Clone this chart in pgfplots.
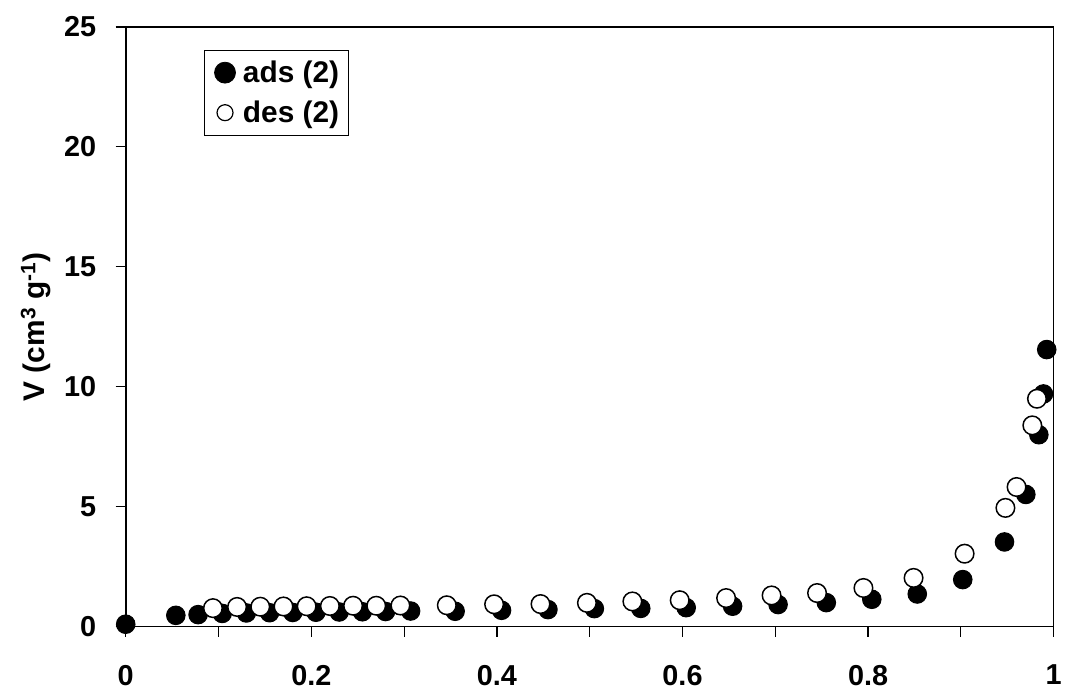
\documentclass[border=0pt]{standalone}
\usepackage{pgfplots}
\pgfplotsset{compat=1.18}
\usepackage{fontspec}
\setmainfont{Liberation Sans}
\begin{document}
\begin{tikzpicture}
\begin{axis}[
  scale only axis,
  width=930bp, height=601bp,
  xmin=0, xmax=1, ymin=0, ymax=25,
  xtick={0,0.2,0.4,0.6,0.8,1},
  xticklabels={0,0.2,0.4,0.6,0.8,1},
  minor xtick={0.1,0.3,0.5,0.7,0.9},
  ytick={0,5,10,15,20,25},
  tick align=outside,
  xtick pos=bottom, ytick pos=left,
  major tick length=10bp, minor tick length=10bp,
  every tick/.style={black, line width=1.2bp},
  axis line style={line width=1.6bp},
  /pgf/number format/assume math mode=true,
  ticklabel style={font=\fontsize{29}{34}\selectfont\bfseries},
  xticklabel style={yshift=-25bp},
  yticklabel style={xshift=-16bp},
  ylabel={V (cm\textsuperscript{3} g\textsuperscript{-1})},
  ylabel style={font=\fontsize{30}{34}\selectfont\bfseries, at={(axis description cs:-0.097,0.5)}, anchor=center},
  legend style={at={(0.084,0.962)}, anchor=north west, draw=black, line width=0.8bp,
    font=\fontsize{30}{34}\selectfont\bfseries, inner xsep=7bp, inner ysep=9bp, row sep=13bp},
  legend cell align=left,
  clip=false,
]
\addplot[only marks, mark=*, mark size=9.3bp, draw=black, fill=black, mark options={line width=1bp},
  legend image code/.code={\path[draw=none,fill=none] (-14bp,-10bp) rectangle (16bp,10bp); \fill[black] (0bp,0bp) circle (10.5bp);}] coordinates {
(0.0,0.10) (0.054,0.47) (0.078,0.50) (0.104,0.55) (0.130,0.57) (0.155,0.58)
(0.180,0.59) (0.205,0.60) (0.230,0.61) (0.255,0.62) (0.280,0.63) (0.307,0.65)
(0.355,0.64) (0.405,0.68) (0.455,0.71) (0.505,0.75) (0.555,0.76) (0.604,0.79)
(0.654,0.85) (0.703,0.92) (0.755,1.00) (0.804,1.14) (0.853,1.36) (0.902,1.96)
(0.947,3.53) (0.970,5.51) (0.984,8.00) (0.989,9.70) (0.9925,11.55)
};
\addlegendentry{ads (2)}
\addplot[only marks, mark=*, mark size=9.3bp, draw=black, fill=white, mark options={line width=1.5bp, fill=white},
  legend image code/.code={\path[draw=none,fill=none] (-14bp,-10bp) rectangle (16bp,10bp); \draw[black, line width=1.2bp, fill=white] (0bp,0bp) circle (8bp);}] coordinates {
(0.094,0.77) (0.120,0.82) (0.145,0.83) (0.170,0.84) (0.195,0.85) (0.220,0.86)
(0.245,0.87) (0.270,0.87) (0.296,0.88)
(0.346,0.89) (0.397,0.93) (0.447,0.94) (0.497,0.99) (0.546,1.05) (0.597,1.10)
(0.647,1.19) (0.696,1.30) (0.745,1.40) (0.795,1.61) (0.849,2.03) (0.904,3.04)
(0.948,4.95) (0.960,5.82) (0.977,8.39) (0.982,9.50)
};
\addlegendentry{des (2)}
\end{axis}
\path ([xshift=-126bp,yshift=-65bp]current axis.south west) rectangle ([xshift=9bp,yshift=27bp]current axis.north east);
\end{tikzpicture}
\end{document}
